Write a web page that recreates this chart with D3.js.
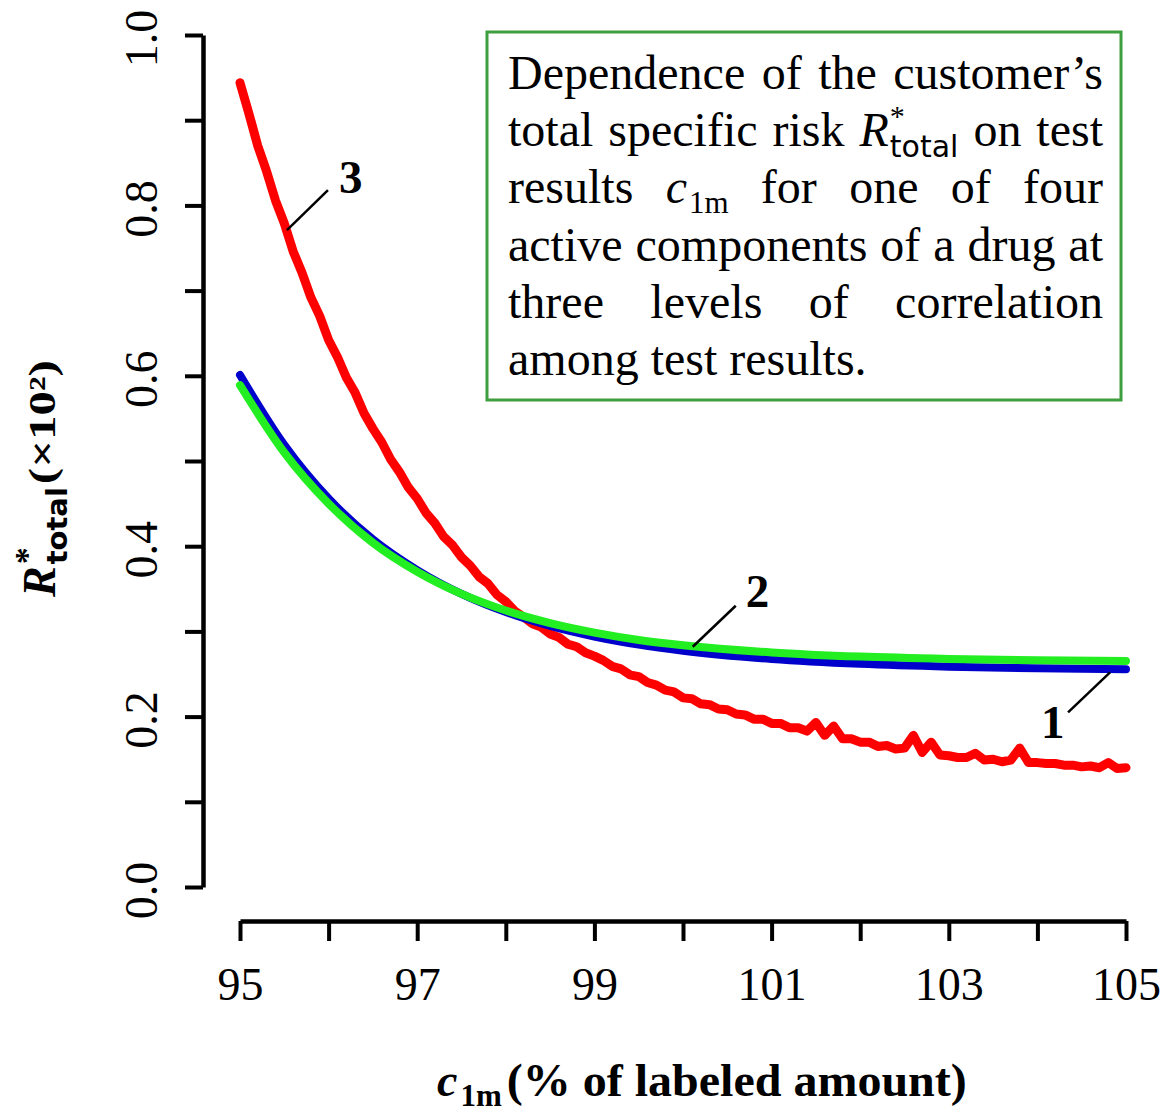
<!DOCTYPE html>
<html>
<head>
<meta charset="utf-8">
<script src="https://cdn.jsdelivr.net/npm/d3@7"></script>
<style>
  html, body { margin: 0; padding: 0; background: #fff; }
  svg { display: block; }
</style>
</head>
<body>
<svg id="chart" width="1165" height="1113"></svg>
<script>
// ---- data ---------------------------------------------------------------
const xTicks = [95, 96, 97, 98, 99, 100, 101, 102, 103, 104, 105];
const xLabelTicks = [95, 97, 99, 101, 103, 105];
const yTicks = [0.0, 0.1, 0.2, 0.3, 0.4, 0.5, 0.6, 0.7, 0.8, 0.9, 1.0];
const yLabelTicks = [0.0, 0.2, 0.4, 0.6, 0.8, 1.0];

// smooth curves 1 and 2 (c1m grid)
const smoothX = [95, 95.5, 96, 96.5, 97, 97.5, 98, 98.5, 99, 99.5, 100, 101, 102, 103, 104, 105];
const curve1 = [0.601, 0.519, 0.456, 0.408, 0.372, 0.344, 0.3227, 0.3064, 0.294, 0.2845, 0.2773, 0.2676, 0.2619, 0.2586, 0.2567, 0.2556];
const curve2 = [0.589, 0.510, 0.450, 0.404, 0.370, 0.344, 0.3245, 0.3098, 0.2986, 0.290, 0.2838, 0.2753, 0.2704, 0.2677, 0.2661, 0.2652];

// curve 3 (simulated, noisy), sampled every 0.1 from 95
const curve3Start = 95;
const curve3Step = 0.1;
const curve3 = [
  0.944, 0.908, 0.870, 0.840, 0.806, 0.779, 0.746, 0.721, 0.692, 0.670,
  0.642, 0.622, 0.598, 0.580, 0.556, 0.538, 0.522, 0.502, 0.487, 0.469,
  0.456, 0.439, 0.427, 0.411, 0.401, 0.387, 0.377, 0.364, 0.356, 0.343,
  0.335, 0.324, 0.317, 0.309, 0.305, 0.297, 0.293, 0.285, 0.282, 0.275,
  0.271, 0.266, 0.259, 0.256, 0.249, 0.247, 0.240, 0.237, 0.231, 0.229,
  0.222, 0.221, 0.215, 0.214, 0.209, 0.208, 0.203, 0.202, 0.197, 0.197,
  0.192, 0.192, 0.187, 0.187, 0.183, 0.193, 0.178, 0.189, 0.174, 0.174,
  0.170, 0.170, 0.165, 0.166, 0.162, 0.163, 0.178, 0.158, 0.170, 0.155,
  0.154, 0.152, 0.152, 0.157, 0.149, 0.150, 0.147, 0.149, 0.163, 0.146,
  0.146, 0.145, 0.145, 0.143, 0.143, 0.141, 0.142, 0.140, 0.146, 0.139,
  0.140
];

// curve number callouts: anchor on the curve (data units), leader end and label offset (px)
const callouts = [
  { label: "3", x: 95.53, y: 0.771, lx: 41, ly: -40, tx: 52, ty: -37 },
  { label: "2", x: 100.11, y: 0.282, lx: 43, ly: -41, tx: 53, ty: -40 },
  { label: "1", x: 104.82, y: 0.252, lx: -42, ly: 40, tx: -69, ty: 66 }
];

// ---- setup --------------------------------------------------------------
const SERIF = "'Liberation Serif','Times New Roman',serif";
const SANS = "'DejaVu Sans',sans-serif";
const svg = d3.select("#chart");

const x = d3.scaleLinear().domain([95, 105]).range([240, 1126]);
const y = d3.scaleLinear().domain([0, 1]).range([887, 35]);

const isIn = (arr, v) => arr.some(a => Math.abs(a - v) < 1e-9);

// ---- axes ---------------------------------------------------------------
const yAxis = d3.axisLeft(y)
  .tickValues(yTicks)
  .tickSize(18)
  .tickSizeOuter(0)
  .tickFormat(d => isIn(yLabelTicks, d) ? d3.format(".1f")(d) : "");
const gy = svg.append("g").attr("transform", "translate(203,0)").call(yAxis);
gy.select(".domain").attr("stroke", "#000").attr("stroke-width", 4.5);
gy.selectAll(".tick line").attr("stroke", "#000").attr("stroke-width", 4);
gy.selectAll(".tick text")
  .attr("font-family", SERIF).attr("font-size", 46).attr("fill", "#000")
  .attr("text-anchor", "middle")
  .attr("transform", "rotate(-90)")
  .attr("x", -3).attr("y", -46).attr("dy", 0);

const xAxis = d3.axisBottom(x)
  .tickValues(xTicks)
  .tickSize(20)
  .tickSizeOuter(0)
  .tickFormat(d => isIn(xLabelTicks, d) ? String(d) : "");
const gx = svg.append("g").attr("transform", "translate(0,921)").call(xAxis);
gx.select(".domain").attr("stroke", "#000").attr("stroke-width", 4.5);
gx.selectAll(".tick line").attr("stroke", "#000").attr("stroke-width", 4);
gx.selectAll(".tick text")
  .attr("font-family", SERIF).attr("font-size", 46).attr("fill", "#000")
  .attr("text-anchor", "middle")
  .attr("y", 79).attr("dy", 0);

// ---- curves -------------------------------------------------------------
const line = d3.line().x(d => x(d[0])).y(d => y(d[1]));
const smoothLine = d3.line().x(d => x(d[0])).y(d => y(d[1])).curve(d3.curveMonotoneX);

const plot = svg.append("g").attr("fill", "none")
  .attr("stroke-linecap", "round").attr("stroke-linejoin", "round");

plot.append("path")
  .datum(curve3.map((v, i) => [curve3Start + i * curve3Step, v]))
  .attr("d", line).attr("stroke", "#ff0000").attr("stroke-width", 9);

plot.append("path")
  .datum(smoothX.map((v, i) => [v, curve1[i]]))
  .attr("d", smoothLine).attr("stroke", "#0000cc").attr("stroke-width", 8);

plot.append("path")
  .datum(smoothX.map((v, i) => [v, curve2[i]]))
  .attr("d", smoothLine).attr("stroke", "#22ee22").attr("stroke-width", 8);

// ---- callouts -----------------------------------------------------------
const cg = svg.append("g");
callouts.forEach(c => {
  const px = x(c.x), py = y(c.y);
  cg.append("line")
    .attr("x1", px).attr("y1", py).attr("x2", px + c.lx).attr("y2", py + c.ly)
    .attr("stroke", "#000").attr("stroke-width", 2.5);
  cg.append("text")
    .attr("x", px + c.tx).attr("y", py + c.ty)
    .attr("font-family", SERIF).attr("font-size", 47).attr("font-weight", "bold")
    .attr("fill", "#000").text(c.label);
});

// ---- rich text helper (sub/superscripts) ---------------------------------
function richWord(parent, segs) {
  const g = parent.append("g");
  let cx = 0, prevStart = 0, right = 0;
  segs.forEach(s => {
    const start = s.stack ? prevStart : cx + (s.gap || 0);
    const t = g.append("text")
      .attr("x", start).attr("y", s.dy || 0)
      .attr("font-family", s.family || SERIF)
      .attr("font-size", s.size)
      .attr("font-style", s.italic ? "italic" : "normal")
      .attr("font-weight", s.bold ? "bold" : "normal")
      .attr("fill", "#000")
      .text(s.t);
    if (s.len) t.attr("textLength", s.len).attr("lengthAdjust", "spacingAndGlyphs");
    const w = s.len || t.node().getComputedTextLength();
    prevStart = start;
    cx = start + w;
    right = Math.max(right, cx);
  });
  return { g, width: right };
}

// ---- description box ------------------------------------------------------
const N = t => ({ t, size: 48 });
const I = t => ({ t, size: 48, italic: true });
const SUP = t => ({ t, size: 30, dy: -20, gap: 1 });
const SUBSANS = t => ({ t, size: 30, family: SANS, dy: 11, stack: true });
const SUB = t => ({ t, size: 31, dy: 10, gap: 2 });

const boxLines = [
  [[N("Dependence")], [N("of")], [N("the")], [N("customer’s")]],
  [[N("total")], [N("specific")], [N("risk")], [I("R"), SUP("*"), SUBSANS("total")], [N("on")], [N("test")]],
  [[N("results")], [I("c"), SUB("1m")], [N("for")], [N("one")], [N("of")], [N("four")]],
  [[N("active")], [N("components")], [N("of")], [N("a")], [N("drug")], [N("at")]],
  [[N("three")], [N("levels")], [N("of")], [N("correlation")]],
  [[N("among")], [N("test")], [N("results.")]]
];
const boxBaselines = [89, 146, 203, 261, 318, 375];

svg.append("rect")
  .attr("x", 487).attr("y", 32).attr("width", 634).attr("height", 368)
  .attr("fill", "#fff").attr("stroke", "#3f9f3f").attr("stroke-width", 3);

const textLeft = 508, textRight = 1103;
const boxText = svg.append("g");
boxLines.forEach((words, li) => {
  const lineG = boxText.append("g").attr("transform", `translate(0,${boxBaselines[li]})`);
  const parts = words.map(w => richWord(lineG, w));
  const total = d3.sum(parts, p => p.width);
  const last = li === boxLines.length - 1;
  const gap = last ? 12 : (textRight - textLeft - total) / (parts.length - 1);
  let cx = textLeft;
  parts.forEach(p => {
    p.g.attr("transform", `translate(${cx},0)`);
    cx += p.width + gap;
  });
});

// ---- axis titles ------------------------------------------------------------
const yTitle = svg.append("g").attr("transform", "translate(55,597) rotate(-90)");
richWord(yTitle, [
  { t: "R", size: 46, bold: true, italic: true },
  { t: "*", size: 34, bold: true, dy: -17, gap: 2 },
  { t: "total", size: 29, family: SANS, bold: true, dy: 12, stack: true },
  { t: "(×10²)", size: 38, bold: true, gap: 3, len: 124 }
]);

const xTitle = svg.append("g").attr("transform", "translate(437,1096)");
richWord(xTitle, [
  { t: "c", size: 46, bold: true, italic: true },
  { t: "1m", size: 31, bold: true, dy: 10, gap: 3 },
  { t: "(% of labeled amount)", size: 46, bold: true, gap: 5, len: 460 }
]);
</script>
</body>
</html>
